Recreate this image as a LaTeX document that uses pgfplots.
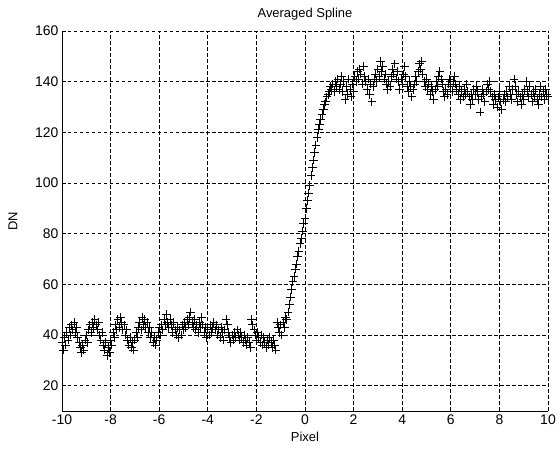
\documentclass[border=0pt]{standalone}
\usepackage{pgfplots}
\pgfplotsset{compat=1.18}
\usepackage{fontspec}
\setmainfont{Liberation Sans}
\begin{document}
\begin{tikzpicture}[font=\fontsize{13}{15}\selectfont]
\begin{axis}[
  at={(0,0)}, anchor=south west,
  scale only axis, width=486bp, height=380bp,
  xmin=-10, xmax=10, ymin=10, ymax=160,
  xtick={-10,-8,...,10}, ytick={20,40,...,160},
  axis x line*=bottom, axis y line*=left,
  axis line style={-, black, line width=1pt},
  tick align=inside, major tick length=4bp,
  tick style={black, line width=0.8pt},
  tick label style={font=\fontsize{14}{16}\selectfont},
  grid=major,
  major grid style={black, line width=0.9pt, dash pattern=on 3.5bp off 2.5bp},
  /pgf/number format/assume math mode=true,
  title={Averaged Spline}, title style={yshift=1bp},
  xlabel={Pixel}, ylabel={DN},
  xlabel style={yshift=-1bp}, ylabel style={yshift=11bp},
  clip=false,
]
\addplot[only marks, mark=+, mark size=4.3bp, black, line width=0.9pt] coordinates {
(-10.00,37) (-9.95,34) (-9.90,39) (-9.85,36) (-9.80,41) (-9.75,38) (-9.70,43) (-9.65,40) (-9.60,44) (-9.55,42)
(-9.50,45) (-9.45,41) (-9.40,43) (-9.35,39) (-9.30,37) (-9.25,35) (-9.20,33) (-9.15,36) (-9.10,34) (-9.05,38)
(-9.00,40) (-8.95,37) (-8.90,42) (-8.85,44) (-8.80,41) (-8.75,45) (-8.70,43) (-8.65,46) (-8.60,44) (-8.55,42)
(-8.50,45) (-8.45,40) (-8.40,38) (-8.35,41) (-8.30,36) (-8.25,34) (-8.20,37) (-8.15,32) (-8.10,35) (-8.05,33)
(-8.00,38) (-7.95,36) (-7.90,41) (-7.85,39) (-7.80,44) (-7.75,42) (-7.70,46) (-7.65,43) (-7.60,47) (-7.55,45)
(-7.50,42) (-7.45,44) (-7.40,40) (-7.35,42) (-7.30,38) (-7.25,36) (-7.20,39) (-7.15,35) (-7.10,37) (-7.05,34)
(-7.00,38) (-6.95,41) (-6.90,39) (-6.85,43) (-6.80,45) (-6.75,42) (-6.70,47) (-6.65,44) (-6.60,46) (-6.55,43)
(-6.50,45) (-6.45,41) (-6.40,43) (-6.35,39) (-6.30,41) (-6.25,37) (-6.20,39) (-6.15,36) (-6.10,38) (-6.05,41)
(-6.00,43) (-5.95,40) (-5.90,44) (-5.85,42) (-5.80,46) (-5.75,44) (-5.70,48) (-5.65,45) (-5.60,43) (-5.55,46)
(-5.50,44) (-5.45,41) (-5.40,45) (-5.35,42) (-5.30,40) (-5.25,43) (-5.20,39) (-5.15,42) (-5.10,40) (-5.05,44)
(-5.00,42) (-4.95,45) (-4.90,43) (-4.85,46) (-4.80,44) (-4.75,47) (-4.70,49) (-4.65,45) (-4.60,43) (-4.55,46)
(-4.50,42) (-4.45,44) (-4.40,41) (-4.35,45) (-4.30,43) (-4.25,47) (-4.20,44) (-4.15,41) (-4.10,43) (-4.05,39)
(-4.00,42) (-3.95,40) (-3.90,44) (-3.85,41) (-3.80,43) (-3.75,45) (-3.70,42) (-3.65,44) (-3.60,40) (-3.55,42)
(-3.50,39) (-3.45,43) (-3.40,41) (-3.35,38) (-3.30,42) (-3.25,46) (-3.20,44) (-3.15,41) (-3.10,39) (-3.05,37)
(-3.00,40) (-2.95,38) (-2.90,41) (-2.85,39) (-2.80,42) (-2.75,40) (-2.70,38) (-2.65,41) (-2.60,39) (-2.55,37)
(-2.50,40) (-2.45,38) (-2.40,36) (-2.35,39) (-2.30,37) (-2.25,35) (-2.20,46) (-2.15,44) (-2.10,42) (-2.05,40)
(-2.00,38) (-1.95,41) (-1.90,39) (-1.85,37) (-1.80,40) (-1.75,36) (-1.70,39) (-1.65,37) (-1.60,35) (-1.55,38)
(-1.50,36) (-1.45,39) (-1.40,37) (-1.35,35) (-1.30,38) (-1.25,36) (-1.20,34) (-1.15,45) (-1.10,43) (-1.05,41)
(-1.00,44) (-0.95,40) (-0.90,45) (-0.85,43) (-0.80,47) (-0.75,46) (-0.70,49) (-0.65,52) (-0.60,55) (-0.55,58)
(-0.50,61) (-0.45,63) (-0.40,66) (-0.35,68) (-0.30,71) (-0.25,73) (-0.20,76) (-0.15,78) (-0.10,81) (-0.05,84)
(0.00,86) (0.05,90) (0.10,93) (0.15,96) (0.20,99) (0.25,103) (0.30,106) (0.35,109) (0.40,112) (0.45,115)
(0.50,118) (0.55,121) (0.60,123) (0.65,125) (0.70,127) (0.75,129) (0.80,131) (0.85,132) (0.90,134) (0.95,135)
(1.00,136) (1.05,138) (1.10,137) (1.15,139) (1.20,136) (1.25,140) (1.30,138) (1.35,141) (1.40,137) (1.45,139)
(1.50,142) (1.55,136) (1.60,140) (1.65,133) (1.70,138) (1.75,135) (1.80,141) (1.85,137) (1.90,134) (1.95,139)
(2.00,136) (2.05,142) (2.10,140) (2.15,144) (2.20,141) (2.25,145) (2.30,143) (2.35,139) (2.40,146) (2.45,142)
(2.50,140) (2.55,137) (2.60,141) (2.65,135) (2.70,139) (2.75,132) (2.80,138) (2.85,141) (2.90,143) (2.95,140)
(3.00,145) (3.05,142) (3.10,148) (3.15,144) (3.20,146) (3.25,141) (3.30,143) (3.35,139) (3.40,137) (3.45,140)
(3.50,138) (3.55,142) (3.60,145) (3.65,143) (3.70,147) (3.75,141) (3.80,144) (3.85,140) (3.90,137) (3.95,141)
(4.00,139) (4.05,143) (4.10,146) (4.15,142) (4.20,138) (4.25,136) (4.30,140) (4.35,138) (4.40,134) (4.45,137)
(4.50,139) (4.55,142) (4.60,140) (4.65,144) (4.70,147) (4.75,145) (4.80,148) (4.85,143) (4.90,140) (4.95,138)
(5.00,141) (5.05,137) (5.10,139) (5.15,135) (5.20,138) (5.25,136) (5.30,133) (5.35,137) (5.40,140) (5.45,138)
(5.50,142) (5.55,144) (5.60,141) (5.65,139) (5.70,136) (5.75,134) (5.80,137) (5.85,135) (5.90,139) (5.95,141)
(6.00,138) (6.05,136) (6.10,140) (6.15,142) (6.20,139) (6.25,137) (6.30,135) (6.35,138) (6.40,133) (6.45,136)
(6.50,134) (6.55,137) (6.60,135) (6.65,139) (6.70,136) (6.75,134) (6.80,131) (6.85,135) (6.90,133) (6.95,137)
(7.00,135) (7.05,138) (7.10,136) (7.15,133) (7.20,128) (7.25,134) (7.30,137) (7.35,135) (7.40,132) (7.45,136)
(7.50,139) (7.55,137) (7.60,140) (7.65,136) (7.70,134) (7.75,131) (7.80,135) (7.85,133) (7.90,130) (7.95,134)
(8.00,136) (8.05,132) (8.10,129) (8.15,133) (8.20,135) (8.25,132) (8.30,136) (8.35,134) (8.40,138) (8.45,135)
(8.50,133) (8.55,137) (8.60,141) (8.65,138) (8.70,135) (8.75,132) (8.80,136) (8.85,134) (8.90,131) (8.95,135)
(9.00,133) (9.05,137) (9.10,140) (9.15,136) (9.20,134) (9.25,138) (9.30,135) (9.35,132) (9.40,136) (9.45,134)
(9.50,137) (9.55,133) (9.60,131) (9.65,135) (9.70,138) (9.75,134) (9.80,136) (9.85,133) (9.90,137) (9.95,135)
(10.00,134)
};
\end{axis}
\path[use as bounding box] (-62bp,-39bp) rectangle (498bp,411bp);
\end{tikzpicture}
\end{document}
